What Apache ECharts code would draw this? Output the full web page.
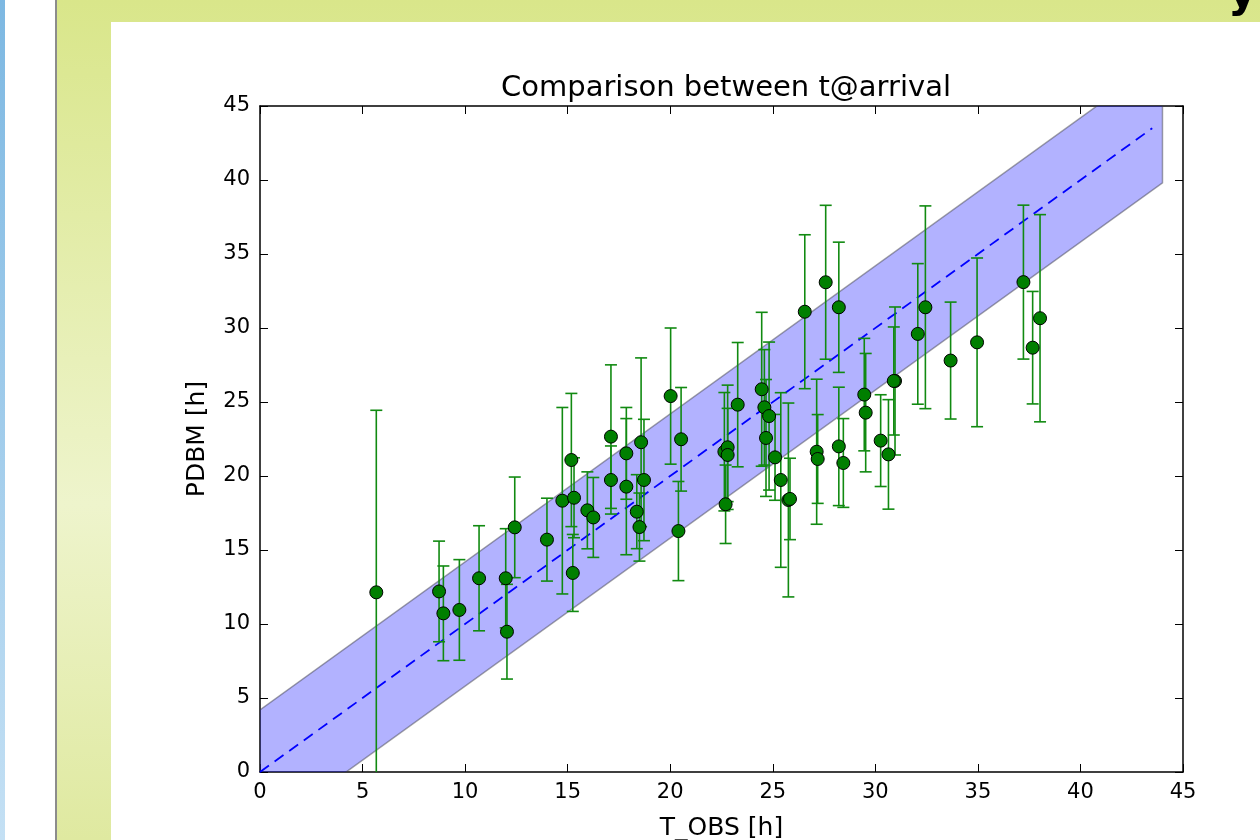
<!DOCTYPE html>
<html>
<head>
<meta charset="utf-8">
<script src="https://cdn.jsdelivr.net/npm/echarts@6/dist/echarts.min.js"></script>
<style>
  html, body { margin: 0; padding: 0; background: #fff; }
  #chart { width: 1260px; height: 840px; }
</style>
</head>
<body>
<div id="chart"></div>
<script>
// observed arrival times [h]
var tObs = [5.67, 8.73, 8.94, 9.72, 10.68, 11.98, 12.04, 12.42, 13.99, 14.74,
  15.18, 15.31, 15.25, 15.96, 16.25, 17.11, 17.11, 17.86, 17.86, 18.37,
  18.5, 18.58, 18.72, 20.02, 20.4, 20.53, 22.64, 22.8, 22.8, 22.7,
  23.29, 24.46, 24.59, 24.82, 24.67, 25.11, 25.39, 25.76, 25.84, 26.56,
  27.14, 27.19, 27.58, 28.22, 28.22, 28.44, 29.46, 29.53, 30.26, 30.64,
  30.96, 30.9, 32.07, 32.44, 33.67, 34.96, 37.22, 37.67, 38.03];
// PDBM prediction [h]
var pdbm = [12.14, 12.2, 10.72, 10.95, 13.09, 13.09, 9.48, 16.53, 15.7, 18.33,
  21.08, 18.53, 13.45, 17.68, 17.2, 22.66, 19.73, 21.53, 19.28, 17.59,
  16.55, 22.28, 19.73, 25.4, 16.28, 22.48, 21.64, 21.94, 21.42, 18.09,
  24.82, 25.86, 24.64, 24.05, 22.57, 21.26, 19.73, 18.38, 18.45, 31.1,
  21.64, 21.15, 33.09, 31.4, 22.0, 20.88, 25.5, 24.28, 22.39, 21.46,
  26.42, 26.42, 29.6, 31.4, 27.8, 29.03, 33.1, 28.67, 30.66];
// symmetric error on PDBM [h]
var pdbmErr = [12.3, 3.4, 3.2, 3.4, 3.55, 3.35, 3.2, 3.4, 2.8, 6.3,
  4.5, 2.7, 2.6, 2.6, 2.7, 4.85, 2.3, 3.1, 4.6, 2.5,
  2.3, 5.7, 4.1, 4.6, 3.35, 3.5, 4.0, 4.2, 3.15, 2.65,
  4.2, 5.2, 3.9, 5.0, 3.95, 2.9, 5.9, 6.55, 2.75, 5.2,
  4.9, 3.0, 5.2, 4.4, 4.0, 3.0, 3.8, 4.0, 3.1, 3.7,
  5.0, 3.65, 4.75, 6.85, 3.95, 5.7, 5.2, 3.8, 7.0];

// y = x reference line
var refX = [0, 43.5];
var refY = [0, 43.5];
// +-4.2 h band around it
var bandX = [0, 44];
var bandLow = [-4.2, 39.8];
var bandHigh = [4.2, 48.2];

var xTicks = [0, 45, 5];
var yTicks = [0, 45, 5];

var FONT = "DejaVu Sans";

var chart = echarts.init(document.getElementById("chart"));

var errData = [], ptData = [], bandData = [], refData = [];
for (var i = 0; i < tObs.length; i++) {
  errData.push([tObs[i], pdbm[i] - pdbmErr[i], pdbm[i] + pdbmErr[i]]);
  ptData.push([tObs[i], pdbm[i]]);
}
for (var j = 0; j < bandX.length; j++) {
  bandData.push([bandX[j], bandLow[j], bandHigh[j]]);
}
for (var k = 0; k < refX.length; k++) {
  refData.push([refX[k], refY[k]]);
}

function axisX(pos, showLabel) {
  return {
    type: "value", position: pos, min: xTicks[0], max: xTicks[1], interval: xTicks[2],
    splitLine: { show: false },
    axisLine: { show: true, onZero: false, lineStyle: { color: "#000", width: 1.5 } },
    axisTick: { show: true, inside: true, length: 8, lineStyle: { color: "#000", width: 1 } },
    axisLabel: { show: showLabel, color: "#000", fontFamily: FONT, fontSize: 21, margin: 10 }
  };
}
function axisY(pos, showLabel) {
  return {
    type: "value", position: pos, min: yTicks[0], max: yTicks[1], interval: yTicks[2],
    splitLine: { show: false },
    axisLine: { show: true, onZero: false, lineStyle: { color: "#000", width: 1.5 } },
    axisTick: { show: true, inside: true, length: 8, lineStyle: { color: "#000", width: 1 } },
    axisLabel: { show: showLabel, color: "#000", fontFamily: FONT, fontSize: 21, margin: 10 }
  };
}

var xMain = axisX("bottom", true);
xMain.name = "T_OBS [h]";
xMain.nameLocation = "middle";
xMain.nameGap = 44;
xMain.nameTextStyle = { color: "#000", fontFamily: FONT, fontSize: 25 };
var yMain = axisY("left", true);
yMain.name = "PDBM [h]";
yMain.nameLocation = "middle";
yMain.nameGap = 50;
yMain.nameTextStyle = { color: "#000", fontFamily: FONT, fontSize: 25 };

var option = {
  backgroundColor: "#fff",
  animation: false,
  title: {
    text: "Comparison between t@arrival",
    left: 721, top: 69, textAlign: "center",
    textStyle: { color: "#000", fontFamily: FONT, fontSize: 29, fontWeight: "normal" }
  },
  graphic: [
    { type: "rect", z: -10, shape: { x: 0, y: 0, width: 5, height: 840 },
      style: { fill: new echarts.graphic.LinearGradient(0, 0, 0, 1, [
        { offset: 0, color: "#7db8e2" }, { offset: 1, color: "#c4e0f4" }]) } },
    { type: "rect", z: -10, shape: { x: 55, y: 0, width: 2, height: 840 },
      style: { fill: "#8c8c8c" } },
    { type: "rect", z: -10, shape: { x: 57, y: 0, width: 1203, height: 840 },
      style: { fill: new echarts.graphic.LinearGradient(0, 0, 0, 1, [
        { offset: 0, color: "#d9e68a" }, { offset: 0.6, color: "#eef4cc" },
        { offset: 1, color: "#dfe9a0" }]) } },
    { type: "rect", z: -9, shape: { x: 111, y: 22, width: 1149, height: 818 },
      style: { fill: "#fff" } },
    { type: "text", z: -8, x: 1228, y: 18,
      style: { text: "y", fill: "#000", font: "bold 44px DejaVu Sans", verticalAlign: "bottom" } }
  ],
  grid: { left: 260, right: 77, top: 106, bottom: 68, outerBoundsMode: "none", containLabel: false },
  xAxis: [xMain, axisX("top", false)],
  yAxis: [yMain, axisY("right", false)],
  series: [
    {
      type: "custom",
      clip: true,
      data: bandData,
      renderItem: function(params, api) {
        if (params.dataIndex >= bandData.length - 1) return null;
        var n = params.dataIndex;
        var a = bandData[n], b = bandData[n + 1];
        var pts = [
          api.coord([a[0], a[1]]), api.coord([b[0], b[1]]),
          api.coord([b[0], b[2]]), api.coord([a[0], a[2]])
        ];
        return {
          type: "polygon",
          shape: { points: pts },
          style: { fill: "rgba(0,0,255,0.3)", stroke: "rgba(60,60,60,0.45)", lineWidth: 1.5 }
        };
      },
      z: 1
    },
    {
      type: "line",
      data: refData,
      symbol: "none",
      lineStyle: { color: "#0000ff", width: 1.8, type: [11, 7] },
      z: 2
    },
    {
      type: "custom",
      data: errData,
      renderItem: function(params, api) {
        var x = api.value(0);
        var lo = api.coord([x, api.value(1)]);
        var hi = api.coord([x, api.value(2)]);
        var cw = 6;
        var st = { stroke: "#118a11", lineWidth: 1.6 };
        return {
          type: "group",
          children: [
            { type: "line", shape: { x1: lo[0], y1: lo[1], x2: hi[0], y2: hi[1] }, style: st },
            { type: "line", shape: { x1: lo[0] - cw, y1: lo[1], x2: lo[0] + cw, y2: lo[1] }, style: st },
            { type: "line", shape: { x1: hi[0] - cw, y1: hi[1], x2: hi[0] + cw, y2: hi[1] }, style: st }
          ]
        };
      },
      clip: true,
      z: 3
    },
    {
      type: "scatter",
      data: ptData,
      symbol: "circle",
      symbolSize: 13,
      itemStyle: { color: "#007f00", borderColor: "#000", borderWidth: 1, opacity: 1 },
      z: 4
    }
  ]
};

chart.setOption(option);
</script>
</body>
</html>
